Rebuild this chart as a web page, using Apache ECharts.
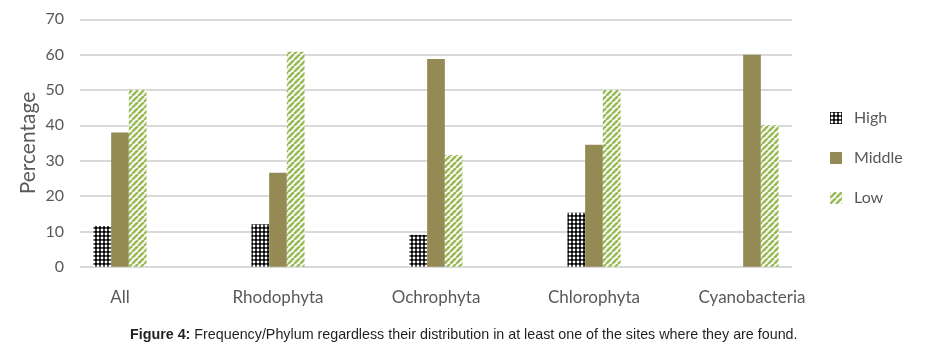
<!DOCTYPE html>
<html>
<head>
<meta charset="utf-8">
<script src="https://cdn.jsdelivr.net/npm/echarts@6/dist/echarts.min.js"></script>
<style>
html,body{margin:0;padding:0;background:#fff;}
#chart{width:942px;height:352px;}
</style>
</head>
<body>
<div id="chart"></div>
<script>
var categories = ['All', 'Rhodophyta', 'Ochrophyta', 'Chlorophyta', 'Cyanobacteria'];
var highValues = [11.5, 12, 9, 15.3, 0];
var middleValues = [38, 26.6, 58.8, 34.5, 60];
var lowValues = [50, 60.8, 31.6, 50, 40];
var yTicks = [0, 10, 20, 30, 40, 50, 60, 70];

// black lattice with white round holes
function dotPattern(){
    var c = document.createElement('canvas');
    c.width = 4; c.height = 4;
    var ctx = c.getContext('2d');
    ctx.fillStyle = '#000000';
    ctx.fillRect(0, 0, 4, 4);
    ctx.fillStyle = '#ffffff';
    ctx.beginPath();
    ctx.arc(2, 2, 1.45, 0, Math.PI * 2);
    ctx.fill();
    return c;
}
// green "/" stripes
function stripePattern(){
    var c = document.createElement('canvas');
    c.width = 6; c.height = 6;
    var ctx = c.getContext('2d');
    ctx.fillStyle = '#ffffff';
    ctx.fillRect(0, 0, 6, 6);
    ctx.strokeStyle = '#9bbb59';
    ctx.lineWidth = 2.6;
    for (var k = -6; k <= 6; k += 6) {
        ctx.beginPath();
        ctx.moveTo(k, 6);
        ctx.lineTo(k + 6, 0);
        ctx.stroke();
    }
    return c;
}

var font = 'Lato';
var txtColor = '#595959';

var chart = echarts.init(document.getElementById('chart'));
var option = {
    backgroundColor: '#ffffff',
    animation: false,
    grid: [
        {left: 80, right: 150, top: 19.3, bottom: 85.3},
        {left: 41, right: 111, top: 19.3, bottom: 85.3}
    ],
    legend: {
        orient: 'vertical',
        left: 830,
        top: 108,
        padding: 0,
        itemWidth: 12,
        itemHeight: 12,
        itemGap: 20,
        icon: 'rect',
        textStyle: {fontFamily: font, fontSize: 16, color: txtColor, lineHeight: 20, padding: [0, 0, 0, 7]},
        data: ['High', 'Middle', 'Low']
    },
    xAxis: [
        {gridIndex: 0, type: 'value', show: false},
        {
            gridIndex: 1,
            type: 'category',
            data: categories,
            axisLine: {show: false},
            axisTick: {show: false},
            axisLabel: {fontFamily: font, fontSize: 17, color: txtColor, margin: 22}
        }
    ],
    yAxis: [
        {
            gridIndex: 0,
            type: 'value',
            min: 0,
            max: 70,
            interval: 10,
            name: 'Percentage',
            nameLocation: 'middle',
            nameGap: 41,
            nameMoveOverlap: false,
            nameTextStyle: {fontFamily: font, fontSize: 21, color: txtColor},
            axisLine: {show: false},
            axisTick: {show: false},
            axisLabel: {
                fontFamily: font, fontSize: 16, color: txtColor, margin: 16,
                formatter: function(v){ return yTicks.indexOf(v) >= 0 ? String(v) : ''; }
            },
            splitLine: {lineStyle: {color: '#d9d9d9', width: 2}}
        },
        {gridIndex: 1, type: 'value', min: 0, max: 70, show: false}
    ],
    series: [
        {
            name: 'High', type: 'bar', xAxisIndex: 1, yAxisIndex: 1,
            data: highValues, barWidth: 17.7, barGap: '0%',
            itemStyle: {color: {image: dotPattern(), repeat: 'repeat'}}
        },
        {
            name: 'Middle', type: 'bar', xAxisIndex: 1, yAxisIndex: 1,
            data: middleValues, barWidth: 17.7, barGap: '0%',
            itemStyle: {color: '#948a54'}
        },
        {
            name: 'Low', type: 'bar', xAxisIndex: 1, yAxisIndex: 1,
            data: lowValues, barWidth: 17.7, barGap: '0%',
            itemStyle: {color: {image: stripePattern(), repeat: 'repeat'}}
        }
    ],
    graphic: [
        {
            type: 'text',
            left: 130,
            top: 328,
            style: {
                text: '{b|Figure 4:} Frequency/Phylum regardless their distribution in at least one of the sites where they are found.',
                fontFamily: 'Liberation Sans',
                fontSize: 14.3,
                fill: '#231f20',
                rich: {b: {fontFamily: 'Liberation Sans', fontSize: 14.3, fontWeight: 'bold', fill: '#231f20'}}
            }
        }
    ]
};
chart.setOption(option);
</script>
</body>
</html>
